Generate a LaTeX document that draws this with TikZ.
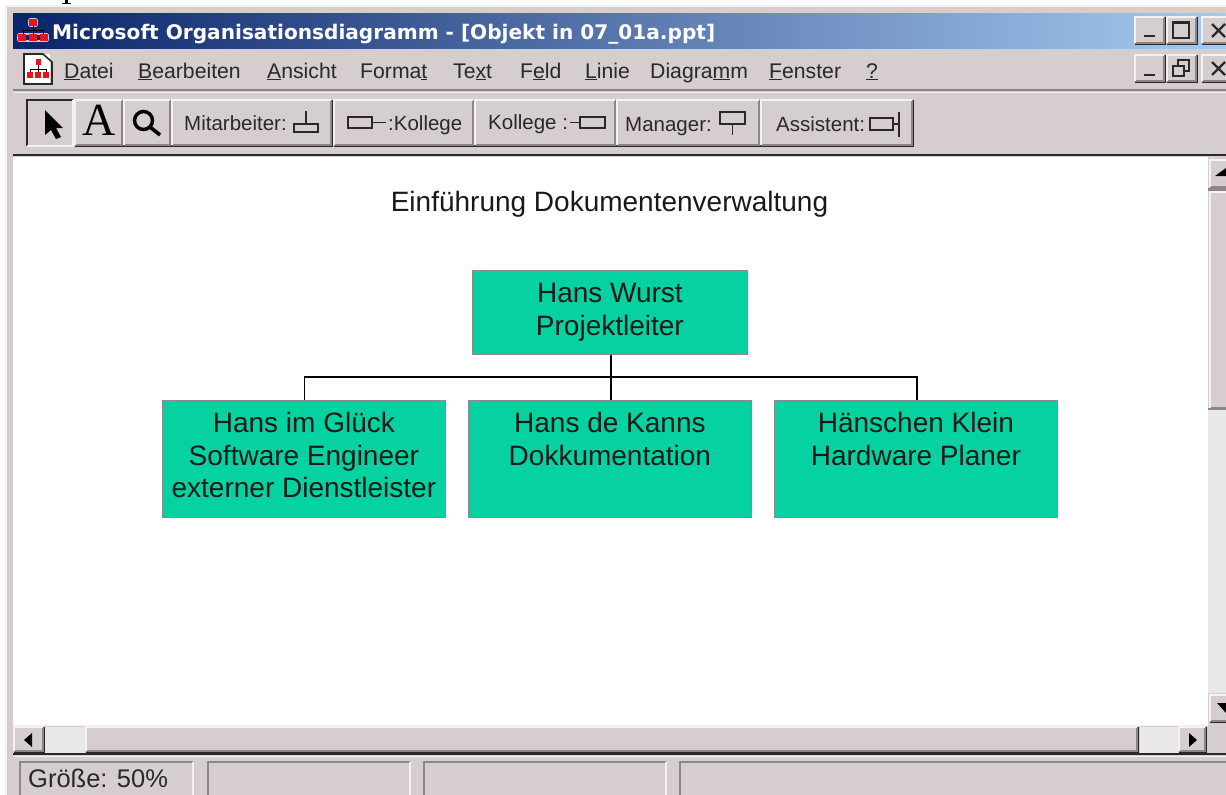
\documentclass[tikz,border=0pt]{standalone}
\usepackage{fontspec}
\setmainfont{Liberation Sans}
\newfontfamily\serifA{Liberation Serif}
\newfontfamily\titlefont{DejaVu Sans}
\usetikzlibrary{shapes.geometric}
\definecolor{winface}{HTML}{D6CECE}
\definecolor{winlight}{HTML}{F4F1F1}
\definecolor{winshade}{HTML}{8E8686}
\definecolor{windark}{HTML}{2A2828}
\definecolor{dither}{HTML}{EAE7E7}
\definecolor{orgfill}{HTML}{05D1A1}
\definecolor{orgedge}{HTML}{8A8A8A}
\definecolor{tbleft}{HTML}{0A246A}
\definecolor{tbright}{HTML}{A6CAF0}
\definecolor{iconred}{HTML}{E8141C}
\newcommand{\winbtn}[4]{%
  \fill[winface] (#1,#2) rectangle (#3,#4);
  \draw[winshade,line width=1.4pt] (#1,#4) -- (#3,#4) -- (#3,#2);
  \draw[windark,line width=1pt] (#1,#4+1) -- (#3+1,#4+1) -- (#3+1,#2);
  \draw[winlight,line width=1.4pt] (#1,#4) -- (#1,#2) -- (#3,#2);
}
\newcommand{\orgicon}[2]{%
  \begin{scope}[shift={(#1,#2)}]
    \draw[white!75!tbleft,line width=1.6pt,rounded corners=1pt] (6,-2) rectangle (14,5);
    \draw[white!75!tbleft,line width=1.6pt,rounded corners=1pt] (-5,13) rectangle (25,20);
    \draw[black,line width=1pt] (0,14) -- (0,9) -- (20,9) -- (20,14) (10,4) -- (10,14);
    \fill[iconred] (6,-2) rectangle (14,5);
    \fill[iconred] (-5,13) rectangle (3,20);
    \fill[iconred] (6,13) rectangle (14,20);
    \fill[iconred] (17,13) rectangle (25,20);
  \end{scope}
}
\tikzset{
  x=1pt,y=-1pt,
  orgbox/.style={draw=orgedge,line width=1.8pt,fill=orgfill,anchor=north west,align=center,inner sep=0pt,
     font=\fontsize{28}{32.5}\selectfont,text=black!90},
  menutext/.style={anchor=base west,inner sep=0pt,font=\fontsize{21.2}{24}\selectfont,text=windark},
  tooltext/.style={anchor=base west,inner sep=0pt,font=\fontsize{20.5}{24}\selectfont,text=windark},
  pic line/.style={draw=windark,line width=1.8pt},
  capsym/.style={windark,line width=2.2pt},
}
\begin{document}
\begin{tikzpicture}
\useasboundingbox (0,0) rectangle (1226,795);
\fill[white] (0,0) rectangle (1226,795);
% cut-off descender above the window
\fill[black] (64.5,0) rectangle (67.5,3.5);
\fill[black] (62,3) rectangle (70.5,4.2);
% window frame
\fill[winface] (6,5) rectangle (1226,795);
\draw[winlight,line width=1.5pt] (6,795) -- (6,6) -- (1226,6);
% title bar
\shade[left color=tbleft,right color=tbright] (13,13) rectangle (1226,48);
\orgicon{23}{21}
\node[anchor=base west,inner sep=0pt,text=white,font=\titlefont\bfseries\fontsize{20.1}{24}\selectfont] (titlebar) at (52,39) {Microsoft Organisationsdiagramm - [Objekt in 07\_01a.ppt]};
% title buttons
\winbtn{1135}{17}{1164}{43}
\winbtn{1167}{17}{1196}{43}
\winbtn{1202}{17}{1230}{43}
\draw[capsym] (1144,36) -- (1155,36);
\draw[windark,line width=1.5pt] (1173,22) rectangle (1189,38);
\draw[windark,line width=2.5pt] (1173,22.5) -- (1189,22.5);
\draw[capsym] (1212,24) -- (1225,37) (1225,24) -- (1212,37);
% menu bar
\fill[white] (24,54) rectangle (50,84);
\draw[windark,line width=1.6pt] (24,54) -- (43,54) -- (52,62) -- (52,84) -- (24,84) -- cycle;
\begin{scope}[shift={(38,61)},scale=.8]
  \draw[black,line width=1pt] (-10,16) -- (-10,10) -- (10,10) -- (10,16) (0,4) -- (0,14);
  \fill[iconred] (-3,-2) rectangle (4,5);
  \fill[iconred] (-14,14) rectangle (-6,21);
  \fill[iconred] (-4,14) rectangle (4,21);
  \fill[iconred] (6,14) rectangle (14,21);
\end{scope}
\node[menutext] (mdatei) at (64,78) {\underline{D}atei};
\node[menutext] (mbearb) at (138,78) {\underline{B}earbeiten};
\node[menutext] (mansicht) at (267,78) {\underline{A}nsicht};
\node[menutext] (mformat) at (360,78) {Forma\underline{t}};
\node[menutext] (mtext) at (453,78) {Te\underline{x}t};
\node[menutext] (mfeld) at (520,78) {F\underline{e}ld};
\node[menutext] (mlinie) at (585,78) {\underline{L}inie};
\node[menutext] (mdiag) at (650,78) {Diagra\underline{m}m};
\node[menutext] (mfenster) at (769,78) {\underline{F}enster};
\node[menutext] (mhelp) at (866,78) {\underline{?}};
\winbtn{1135}{55}{1164}{81}
\winbtn{1167}{55}{1196}{81}
\winbtn{1202}{55}{1230}{81}
\draw[capsym] (1144,75) -- (1155,75);
\draw[windark,line width=1.3pt] (1173,66) rectangle (1184,76);
\draw[windark,line width=1.3pt] (1178,66) -- (1178,60) -- (1189,60) -- (1189,71) -- (1184,71);
\draw[capsym] (1212,62) -- (1225,75) (1225,62) -- (1212,75);
% separators
\draw[winshade,line width=1.5pt] (13,90) -- (1226,90);
\draw[winlight,line width=1.5pt] (13,92.5) -- (1226,92.5);
\draw[windark,line width=1.6pt] (13,155) -- (1226,155);
% toolbar buttons
\fill[winface] (27,100) rectangle (73,146);
\draw[windark,line width=1.5pt] (27,146) -- (27,100) -- (73,100);
\draw[winlight,line width=1.5pt] (27,146) -- (73,146) -- (73,100);
\winbtn{75}{100}{122}{145}
\winbtn{124}{100}{170}{145}
\winbtn{172}{100}{331}{145}
\winbtn{334}{100}{473}{145}
\winbtn{475}{100}{615}{145}
\winbtn{617}{100}{759}{145}
\winbtn{761}{100}{912}{145}
\fill[black] (45,110) -- (45,135) -- (51,130) -- (56,139) -- (61,137) -- (56,128) -- (63,128) -- cycle;
\node[anchor=base,inner sep=0pt,text=black,font=\serifA\fontsize{46}{46}\selectfont] (toolA) at (99,135) {A};
\draw[black,line width=3.5pt] (143.5,120.5) circle (9);
\draw[black,line width=3.6pt] (150,127) -- (160,135);
\node[tooltext] (tmit) at (184,130) {Mitarbeiter:};
\draw[pic line] (294,124) rectangle (318,132) (306,124) -- (306,111);
\draw[pic line] (348,117) rectangle (372,128) (372,122.5) -- (386,122.5);
\node[tooltext] (tkol) at (388,130) {:Kollege};
\node[tooltext] (tkoll) at (488,129) {Kollege :};
\draw[pic line] (570,122.5) -- (580,122.5) (580,117) rectangle (605,128);
\node[tooltext] (tman) at (625,131) {Manager:};
\draw[pic line] (720,112) rectangle (745,124) (732.5,124) -- (732.5,135);
\node[tooltext] (tass) at (776,131) {Assistent:};
\draw[pic line] (870,118) rectangle (893,130) (893,124) -- (899,124) (899,112) -- (899,137);
% client area
\fill[white] (13,157) rectangle (1208,725);
\draw[winlight,line width=1.5pt] (13,725.5) -- (1208,725.5);
% vertical scrollbar
\winbtn{1210}{160}{1230}{187}
\fill[black] (1215,176) -- (1226,176) -- (1226,168) -- cycle;
\winbtn{1210}{192}{1230}{408}
\draw[winshade,line width=2.6pt] (1208,189.5) -- (1226,189.5);
\draw[winshade,line width=2.6pt] (1208,409) -- (1226,409);
\fill[dither] (1208,410) rectangle (1226,693);
\winbtn{1210}{695}{1230}{721}
\fill[black] (1217,703) -- (1226,703) -- (1226,713) -- cycle;
% horizontal scrollbar
\fill[dither] (44,727) rectangle (85,753);
\fill[dither] (1140,727) rectangle (1178,753);
\winbtn{14}{727}{43}{751}
\fill[black] (24,740) -- (32,733) -- (32,747) -- cycle;
\winbtn{86}{727}{1137}{751}
\winbtn{1179}{727}{1205}{751}
\fill[black] (1197,740) -- (1189,733) -- (1189,747) -- cycle;
\draw[windark,line width=1.6pt] (13,754) -- (1226,754);
\draw[winlight,line width=1.5pt] (13,756.5) -- (1226,756.5);
% status bar
\foreach \a/\b in {20/193,208/410,424/666,680/1230}{
  \draw[winshade,line width=1.5pt] (\a,795) -- (\a,762) -- (\b,762);
  \draw[winlight,line width=1.5pt] (\b,762) -- (\b,795);
}
\node[anchor=base west,inner sep=0pt,text=windark,font=\fontsize{25.5}{28}\selectfont] (status) at (28,787) {Größe: 50\%};
% chart
\node[inner sep=0pt,text=black!90,font=\fontsize{28}{32}\selectfont] (charttitle) at (609.5,204) {Einführung Dokumentenverwaltung};
\node[orgbox,minimum width=275pt,minimum height=84pt] (boss) at (471.5,269.5) {Hans Wurst\\Projektleiter};
\node[orgbox,minimum width=283pt,minimum height=117pt] (glueck) at (161.5,399.5) {\strut Hans im Glück\\Software Engineer\\externer Dienstleister\strut};
\node[orgbox,minimum width=283pt,minimum height=117pt] (kanns) at (467.5,399.5) {\strut Hans de Kanns\\Dokkumentation\\\strut};
\node[orgbox,minimum width=283pt,minimum height=117pt] (klein) at (773.5,399.5) {\strut Hänschen Klein\\Hardware Planer\\\strut};
\coordinate (bus) at (610,377);
\draw[black,line width=1.8pt] ([xshift=.9pt]boss.south) -- ([xshift=.9pt]kanns.north);
\draw[black,line width=1.8pt] ([xshift=.5pt]glueck.north) |- (bus) -| ([xshift=1pt]klein.north);
\end{tikzpicture}
\end{document}
